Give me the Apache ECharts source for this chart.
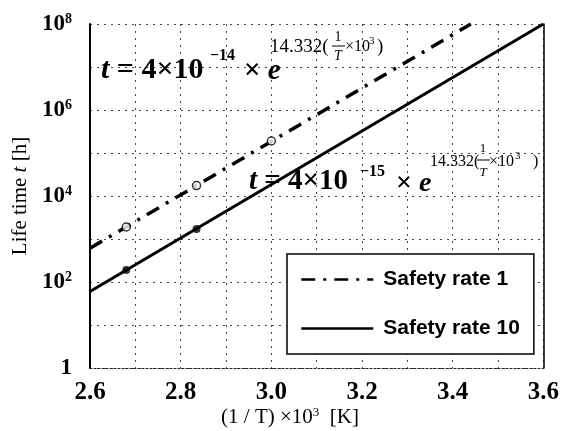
<!DOCTYPE html>
<html>
<head>
<meta charset="utf-8">
<script src="https://cdn.jsdelivr.net/npm/echarts@6/dist/echarts.min.js"></script>
<style>
html,body{margin:0;padding:0;background:#fff;}
#c{width:562px;height:431px;}
</style>
</head>
<body>
<div id="c"></div>
<script>
// ---- data ----
const seriesNames = ['Safety rate 1', 'Safety rate 10'];
const rate1Line = [[2.6, 610], [3.44, 1.0e8]];
const rate10Line = [[2.6, 60], [3.6, 1.0e8]];
const rate1Points = [[2.68, 1900], [2.835, 17500], [3.0, 190000]];
const rate10Points = [[2.68, 190], [2.835, 1700]];
const xMin = 2.6, xMax = 3.6, xStep = 0.2;
const yMin = 1, yMax = 1e8;

const SERIF = '"Liberation Serif", "Times New Roman", serif';
const SANS = '"Liberation Sans", Arial, sans-serif';

function txt(x, y, text, size, opts) {
  opts = opts || {};
  return {
    type: 'text', x: x, y: y, z: 10,
    style: {
      text: text,
      fontFamily: SERIF,
      fontSize: size,
      fontStyle: opts.italic ? 'italic' : 'normal',
      fontWeight: opts.bold ? 'bold' : 'normal',
      fill: '#000',
      align: opts.align || 'left',
      verticalAlign: 'middle',
      rich: opts.rich
    }
  };
}
function bar(x1, x2, y) {
  return { type: 'line', z: 10, shape: { x1: x1, y1: y, x2: x2, y2: y }, style: { stroke: '#000', lineWidth: 1 } };
}
const italicRich = (s) => ({ i: { fontStyle: 'italic', fontWeight: 'bold', fontFamily: SERIF, fontSize: s } });

const graphics = [
  // equation 1
  txt(101, 70, '{i|t} = 4×10', 30, { bold: true, rich: italicRich(30) }),
  txt(210, 56, '−14', 16, { bold: true }),
  txt(244, 72, '× {i|e}', 29, { bold: true, rich: italicRich(29) }),
  txt(270, 47, '14.332(', 19),
  txt(338, 37, '1', 14, { align: 'center' }),
  bar(332, 345, 46),
  txt(338, 56, 'T', 14, { align: 'center', italic: true }),
  txt(345, 47, '×10', 16),
  txt(369, 41, '3', 11),
  txt(377, 47, ')', 19),
  // equation 2
  txt(249, 182, '{i|t} = 4×10', 29, { bold: true, rich: italicRich(29) }),
  txt(360, 172, '−15', 16, { bold: true }),
  txt(396, 184, '× {i|e}', 28, { bold: true, rich: italicRich(28) }),
  txt(430, 162, '14.332(', 16),
  txt(483, 149, '1', 13, { align: 'center' }),
  bar(477, 490, 160),
  txt(483, 173, 'T', 13, { align: 'center', italic: true }),
  txt(489, 162, '×10', 16),
  txt(515, 156, '3', 11),
  txt(533, 162, ')', 16),
  // x axis name
  txt(290, 417, '(1 / T) ×10{sup|3}  [K]', 21, {
    align: 'center',
    rich: { sup: { fontSize: 13, fontFamily: SERIF, verticalAlign: 'top', padding: [0, 0, 8, 0] } }
  })
];

const chart = echarts.init(document.getElementById('c'), null, { renderer: 'canvas' });
chart.setOption({
  backgroundColor: '#fff',
  animation: false,
  grid: { left: 90, right: 12, top: 24, bottom: 63, containLabel: false },
  legend: {
    data: seriesNames,
    orient: 'vertical',
    left: 287, top: 254,
    padding: [15, 14, 15, 13],
    itemWidth: 72, itemHeight: 20, itemGap: 28,
    backgroundColor: '#fff',
    borderColor: '#000', borderWidth: 1.5,
    itemStyle: { opacity: 0 },
    lineStyle: { width: 2.5 },
    textStyle: { fontFamily: SANS, fontWeight: 'bold', fontSize: 21, color: '#000', padding: [0, 0, 0, 5] }
  },
  xAxis: {
    type: 'value', min: xMin, max: xMax, interval: xStep,
    axisLine: { show: true, onZero: false, lineStyle: { color: '#222', width: 1, type: [2, 2] } },
    axisTick: { show: false },
    minorTick: { show: false, splitNumber: 2 },
    minorSplitLine: { show: true, lineStyle: { color: '#444', width: 1, type: [2, 5] } },
    splitLine: { show: true, lineStyle: { color: '#444', width: 1, type: [2, 5] } },
    axisLabel: {
      margin: 12, color: '#000', fontFamily: SERIF, fontWeight: 'bold', fontSize: 25,
      formatter: (v) => v.toFixed(1)
    }
  },
  yAxis: [{
    type: 'log', logBase: 10, min: yMin, max: yMax, interval: 1,
    name: 'Life time {i|t} [h]',
    nameLocation: 'middle', nameGap: 58,
    nameTextStyle: {
      fontFamily: SERIF, fontSize: 21, color: '#000',
      rich: { i: { fontStyle: 'italic', fontFamily: SERIF, fontSize: 21 } }
    },
    axisLine: { show: true, onZero: false, lineStyle: { color: '#000', width: 2 } },
    axisTick: { show: false },
    splitLine: { show: true, lineStyle: { color: '#444', width: 1, type: [2, 5] } },
    axisLabel: {
      margin: 18, color: '#000', fontFamily: SERIF, fontWeight: 'bold', fontSize: 23,
      formatter: function (v) {
        const e = Math.round(Math.log10(v));
        if (e % 2 !== 0) return '';
        if (e === 0) return '1';
        return '10{sup|' + e + '}';
      },
      rich: { sup: { fontSize: 14, fontFamily: SERIF, fontWeight: 'bold', verticalAlign: 'top', padding: [0, 0, 10, 0] } }
    }
  }, {
    type: 'log', logBase: 10, min: yMin, max: yMax, position: 'right',
    axisLine: { show: true, lineStyle: { color: '#000', width: 1.5 } },
    axisTick: { show: false }, axisLabel: { show: false }, splitLine: { show: false }
  }],
  series: [
    {
      name: seriesNames[0], type: 'line', data: rate1Line, symbol: 'none', clip: true,
      lineStyle: { color: '#000', width: 3.5, type: [14, 8, 3, 8] }, itemStyle: { color: '#000' }, z: 3
    },
    {
      name: seriesNames[1], type: 'line', data: rate10Line, symbol: 'none', clip: true,
      lineStyle: { color: '#000', width: 3, type: 'solid' }, itemStyle: { color: '#000' }, z: 3
    },
    {
      name: 'pts1', type: 'scatter', data: rate1Points, symbol: 'circle', symbolSize: 8,
      itemStyle: { color: '#fff', borderColor: '#000', borderWidth: 1.5 }, z: 4
    },
    {
      name: 'pts10', type: 'scatter', data: rate10Points, symbol: 'circle', symbolSize: 8,
      itemStyle: { color: '#000' }, z: 4
    }
  ],
  graphic: graphics
});
</script>
</body>
</html>
